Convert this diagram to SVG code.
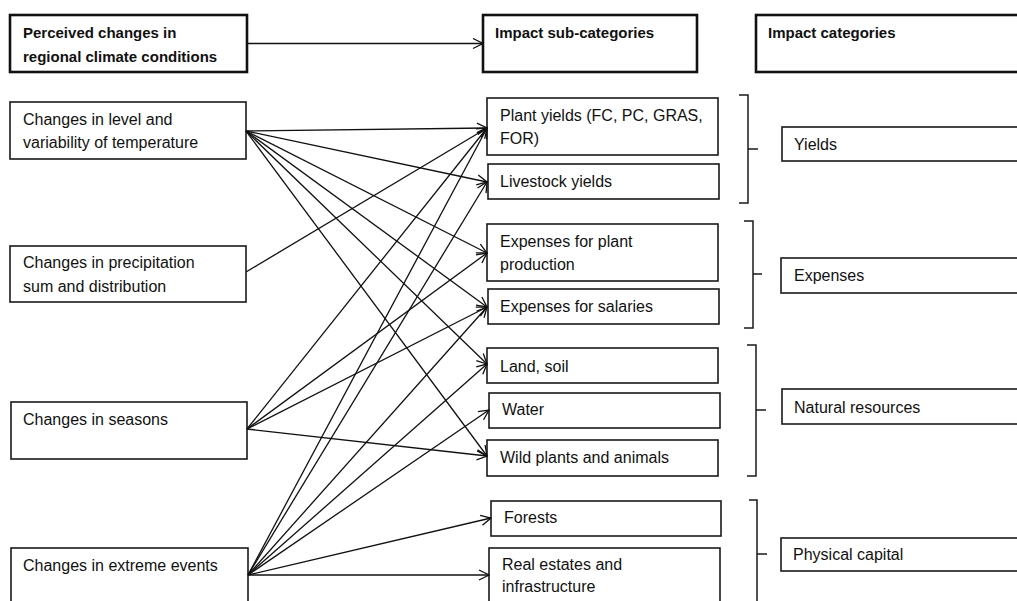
<svg xmlns="http://www.w3.org/2000/svg" width="1017" height="601" viewBox="0 0 1017 601">
  <defs>
    <marker id="open-arrow" markerUnits="userSpaceOnUse" viewBox="0 0 12 12" refX="11" refY="6" markerWidth="12" markerHeight="12" orient="auto">
      <path d="M1,1 L11,6 L1,11" fill="none" stroke="#111" stroke-width="1.3"/>
    </marker>
    <style>
      .box { fill: #fff; stroke: #1a1a1a; stroke-width: 1.6; }
      .head { fill: #fff; stroke: #111; stroke-width: 2.6; }
      .lbl { font-family: "Liberation Sans", Arial, sans-serif; font-size: 16px; fill: #111; }
      .hlbl { font-family: "Liberation Sans", Arial, sans-serif; font-size: 15px; font-weight: bold; fill: #111; }
      .link { fill: none; stroke: #111; stroke-width: 1.3; marker-end: url(#open-arrow); }
      .brace { fill: none; stroke: #1a1a1a; stroke-width: 1.5; }
    </style>
  </defs>
  <rect x="0" y="0" width="1017" height="601" fill="#fff"/>

  <!-- column headers -->
  <g id="head-perceived">
    <rect class="head" x="10" y="15" width="237" height="57"/>
    <text class="hlbl" x="23" y="38">Perceived changes in</text>
    <text class="hlbl" x="23" y="62">regional climate conditions</text>
  </g>
  <g id="head-subcategories">
    <rect class="head" x="483" y="15" width="214" height="57"/>
    <text class="hlbl" x="495" y="38">Impact sub-categories</text>
  </g>
  <g id="head-categories">
    <rect class="head" x="756" y="15" width="280" height="57"/>
    <text class="hlbl" x="768" y="38">Impact categories</text>
  </g>

  <!-- climate drivers -->
  <g id="temperature">
    <rect class="box" x="10" y="102" width="236" height="57"/>
    <text class="lbl" x="23" y="125">Changes in level and</text>
    <text class="lbl" x="23" y="148">variability of temperature</text>
  </g>
  <g id="precipitation">
    <rect class="box" x="10" y="246" width="236" height="56"/>
    <text class="lbl" x="23" y="268">Changes in precipitation</text>
    <text class="lbl" x="23" y="292">sum and distribution</text>
  </g>
  <g id="seasons">
    <rect class="box" x="11" y="402" width="236" height="57"/>
    <text class="lbl" x="23" y="425">Changes in seasons</text>
  </g>
  <g id="extreme-events">
    <rect class="box" x="11" y="548" width="237" height="70"/>
    <text class="lbl" x="23" y="571">Changes in extreme events</text>
  </g>

  <!-- impact sub-categories -->
  <g id="plant-yields">
    <rect class="box" x="487" y="98" width="231" height="57"/>
    <text class="lbl" x="500" y="121">Plant yields (FC, PC, GRAS,</text>
    <text class="lbl" x="500" y="144">FOR)</text>
  </g>
  <g id="livestock-yields">
    <rect class="box" x="488" y="164" width="231" height="35"/>
    <text class="lbl" x="500" y="187">Livestock yields</text>
  </g>
  <g id="expenses-plant">
    <rect class="box" x="487" y="224" width="231" height="57"/>
    <text class="lbl" x="500" y="247">Expenses for plant</text>
    <text class="lbl" x="500" y="270">production</text>
  </g>
  <g id="expenses-salaries">
    <rect class="box" x="488" y="289" width="231" height="35"/>
    <text class="lbl" x="500" y="312">Expenses for salaries</text>
  </g>
  <g id="land-soil">
    <rect class="box" x="487" y="348" width="231" height="35"/>
    <text class="lbl" x="500" y="372">Land, soil</text>
  </g>
  <g id="water">
    <rect class="box" x="489" y="393" width="231" height="35"/>
    <text class="lbl" x="502" y="415">Water</text>
  </g>
  <g id="wild-plants">
    <rect class="box" x="487" y="440" width="231" height="36"/>
    <text class="lbl" x="500" y="463">Wild plants and animals</text>
  </g>
  <g id="forests">
    <rect class="box" x="491" y="501" width="230" height="35"/>
    <text class="lbl" x="504" y="523">Forests</text>
  </g>
  <g id="real-estates">
    <rect class="box" x="489" y="548" width="231" height="70"/>
    <text class="lbl" x="502" y="570">Real estates and</text>
    <text class="lbl" x="502" y="592">infrastructure</text>
  </g>

  <!-- impact categories -->
  <g id="yields">
    <rect class="box" x="782" y="127" width="260" height="34"/>
    <text class="lbl" x="794" y="150">Yields</text>
  </g>
  <g id="expenses">
    <rect class="box" x="781" y="258" width="260" height="35"/>
    <text class="lbl" x="794" y="281">Expenses</text>
  </g>
  <g id="natural-resources">
    <rect class="box" x="782" y="389" width="260" height="35"/>
    <text class="lbl" x="794" y="413">Natural resources</text>
  </g>
  <g id="physical-capital">
    <rect class="box" x="781" y="538" width="260" height="33"/>
    <text class="lbl" x="793" y="560">Physical capital</text>
  </g>

  <!-- grouping brackets -->
  <g id="brackets">
    <path class="brace" d="M739,95 H748 V203 H739 M748,149 H758"/>
    <path class="brace" d="M744,221 H753 V328 H744 M753,274 H762"/>
    <path class="brace" d="M747,345 H756 V476 H747 M756,410 H766"/>
    <path class="brace" d="M749,500 H757 V620 M757,554 H767"/>
  </g>

  <!-- connectors -->
  <g id="connectors">
    <line class="link" x1="247" y1="43.5" x2="483" y2="43.5"/>

    <!-- temperature -->
    <line class="link" x1="246" y1="131" x2="487" y2="128"/>
    <line class="link" x1="246" y1="131" x2="487" y2="182"/>
    <line class="link" x1="246" y1="131" x2="487" y2="253"/>
    <line class="link" x1="246" y1="131" x2="487" y2="307"/>
    <line class="link" x1="246" y1="131" x2="487" y2="364"/>
    <line class="link" x1="246" y1="131" x2="487" y2="456"/>

    <!-- precipitation -->
    <line class="link" x1="246" y1="272" x2="487" y2="128"/>

    <!-- seasons -->
    <line class="link" x1="247" y1="429" x2="487" y2="128"/>
    <line class="link" x1="247" y1="429" x2="487" y2="253"/>
    <line class="link" x1="247" y1="429" x2="487" y2="307"/>
    <line class="link" x1="247" y1="429" x2="487" y2="456"/>

    <!-- extreme events -->
    <line class="link" x1="248" y1="575" x2="487" y2="128"/>
    <line class="link" x1="248" y1="575" x2="487" y2="182"/>
    <line class="link" x1="248" y1="575" x2="487" y2="307"/>
    <line class="link" x1="248" y1="575" x2="487" y2="364"/>
    <line class="link" x1="248" y1="575" x2="489" y2="410"/>
    <line class="link" x1="248" y1="575" x2="491" y2="518"/>
    <line class="link" x1="248" y1="575" x2="489" y2="575"/>
  </g>
</svg>
